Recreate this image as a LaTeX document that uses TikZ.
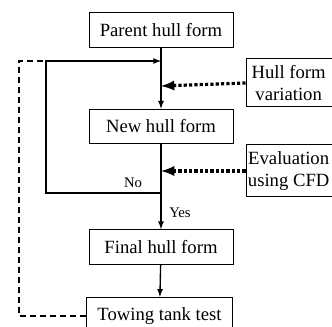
\documentclass[tikz,border=0pt]{standalone}
\usepackage{fontspec}
\setmainfont{Liberation Serif}
\usetikzlibrary{arrows}
\tikzset{
  box/.style={draw, line width=0.75pt, minimum width=108pt, minimum height=26pt,
    inner sep=0pt, font=\fontsize{14}{16.5}\selectfont},
  note/.style={draw, line width=0.75pt, minimum width=72pt, minimum height=36pt,
    inner sep=0pt, align=center, font=\fontsize{14}{16.5}\selectfont},
  flow/.style={->, >=latex, line width=1pt},
  hint/.style={->, >=latex, line width=2.4pt, dash pattern=on 2.4pt off 1.6pt},
  back/.style={line width=0.8pt, dash pattern=on 4.5pt off 3pt},
  tag/.style={inner sep=0pt, font=\fontsize{11}{12}\selectfont}
}
\begin{document}
\begin{tikzpicture}[x=0.75pt, y=-0.75pt]
        \useasboundingbox (0,0) rectangle (332,327);
        \node[box] (parent) at (161,30) {Parent hull form};
        \node[box] (new) at (161,126.5) {New hull form};
        \node[box] (final) at (161,247) {Final hull form};
        \node[box, minimum width=110pt, minimum height=28pt] (tank) at (159.5,316) {Towing tank test};
        \node[note] (var) at (294,83) {\hspace*{-8pt}Hull form\\\hspace*{-8pt}variation};
        \node[note, minimum height=39pt] (eval) at (294,171) {\hspace*{-8pt}Evaluation\\\hspace*{-8pt}using CFD};

        \coordinate (join) at (161,61);
        \coordinate (upper) at (161,86);
        \coordinate (lower) at (161,171);
        \coordinate (split) at (161,193);
        \coordinate (left) at (46,61);
        \coordinate (outer) at (19,61);

        \draw[flow] (parent) -- (new);
        \draw[flow] (new) -- (final);
        \draw[flow] (final) -- (tank);
        \draw[flow] (split) -| (left) -- (join);
        \draw[hint] (var.west) -- (upper);
        \draw[hint] (eval.west) -- (lower);
        \draw[back] (tank.west) -| (outer) -- (left);

        \node[tag] (no) at (133,183) {No};
        \node[tag] (yes) at (180,213) {Yes};
      \end{tikzpicture}
\end{document}
